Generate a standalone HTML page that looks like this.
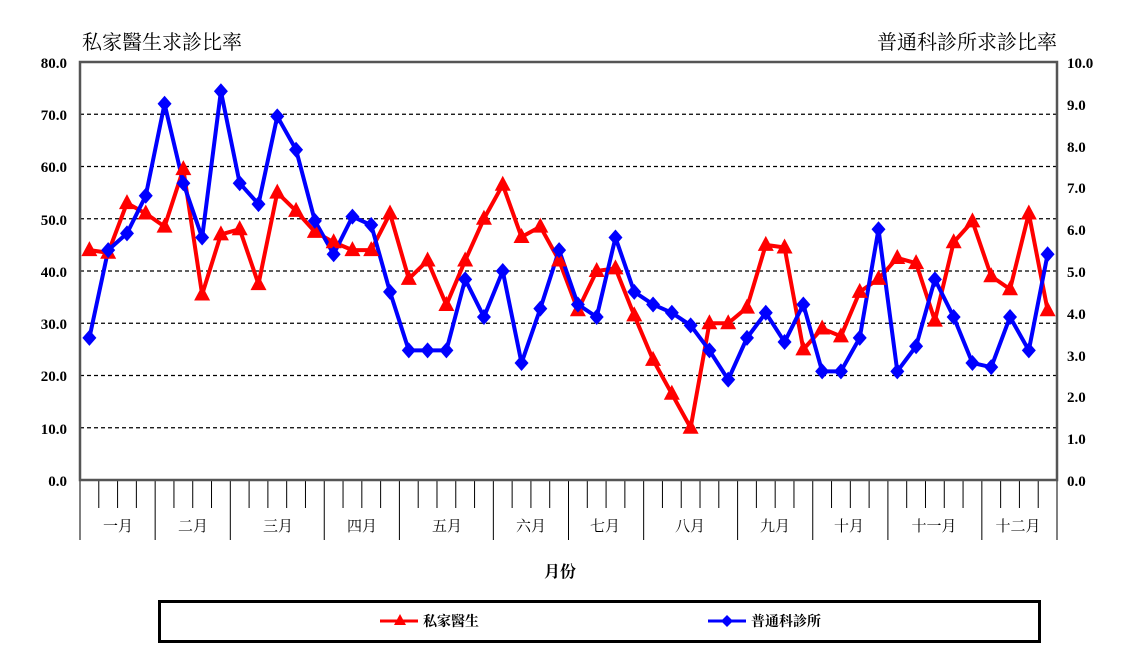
<!DOCTYPE html>
<html><head><meta charset="utf-8"><style>
html,body{margin:0;padding:0;background:#fff;}
svg{display:block;}
text{font-family:"Liberation Serif","Noto Serif CJK SC","Noto Sans CJK TC",serif;}
</style></head><body>
<svg id="s" width="1131" height="656" xmlns="http://www.w3.org/2000/svg">
<rect width="1131" height="656" fill="#fff"/>
<g id="grid"></g>
<text x="82" y="49" font-size="20" font-family="Noto Sans CJK TC,sans-serif">私家醫生求診比率</text>
<text x="1057" y="49" font-size="20" text-anchor="end" font-family="Noto Sans CJK TC,sans-serif">普通科診所求診比率</text>
<g font-size="15" font-weight="bold" text-anchor="end">
<text x="67" y="68">80.0</text><text x="67" y="120">70.0</text><text x="67" y="172">60.0</text><text x="67" y="225">50.0</text><text x="67" y="277">40.0</text><text x="67" y="329">30.0</text><text x="67" y="381">20.0</text><text x="67" y="434">10.0</text><text x="67" y="486">0.0</text>
</g>
<g font-size="15" font-weight="bold">
<text x="1067" y="68">10.0</text><text x="1067" y="110">9.0</text><text x="1067" y="152">8.0</text><text x="1067" y="193">7.0</text><text x="1067" y="235">6.0</text><text x="1067" y="277">5.0</text><text x="1067" y="319">4.0</text><text x="1067" y="361">3.0</text><text x="1067" y="402">2.0</text><text x="1067" y="444">1.0</text><text x="1067" y="486">0.0</text>
</g>
<g font-size="15" text-anchor="middle" font-family="Noto Sans CJK TC,sans-serif">
<text x="118" y="531">一月</text><text x="193" y="531">二月</text><text x="278" y="531">三月</text><text x="362" y="531">四月</text><text x="447" y="531">五月</text><text x="531" y="531">六月</text><text x="605" y="531">七月</text><text x="690" y="531">八月</text><text x="775" y="531">九月</text><text x="849" y="531">十月</text><text x="934" y="531">十一月</text><text x="1018" y="531">十二月</text>
</g>
<text x="560" y="577" font-size="16" font-weight="bold" text-anchor="middle" font-family="Noto Sans CJK TC,sans-serif">月份</text>
<rect x="159.5" y="601.5" width="880" height="40" fill="none" stroke="#000" stroke-width="3"/>
<line x1="380" y1="621" x2="418" y2="621" stroke="#f00" stroke-width="3"/>
<polygon points="400,614 406,625 394,625" fill="#f00"/>
<text x="423" y="626" font-size="14" font-weight="bold" font-family="Noto Sans CJK TC,sans-serif">私家醫生</text>
<line x1="708" y1="621" x2="746" y2="621" stroke="#00f" stroke-width="3"/>
<polygon points="727,615 733,621 727,627 721,621" fill="#00f"/>
<text x="751" y="626" font-size="14" font-weight="bold" font-family="Noto Sans CJK TC,sans-serif">普通科診所</text>
<g id="series"></g>
</svg>
<script>
var NS="http://www.w3.org/2000/svg";
function el(p,t,a){var e=document.createElementNS(NS,t);for(var k in a)e.setAttribute(k,a[k]);p.appendChild(e);return e;}
var g=document.getElementById('grid'),sr=document.getElementById('series');
var L=80,R=1057,T=62,B=480,W=(R-L)/52;
for(var v=10;v<80;v+=10){var y=B-v*(B-T)/80;el(g,'line',{x1:L,x2:R,y1:y,y2:y,stroke:'#000','stroke-width':1.3,'stroke-dasharray':'4,3'});}
var months=[0,4,8,13,17,22,26,30,35,39,43,48,52];
for(var k=0;k<=52;k++){var x=L+k*W;var m=months.indexOf(k)>=0;el(g,'line',{x1:x,x2:x,y1:B,y2:m?540:508,stroke:'#000','stroke-width':1});}
el(g,'rect',{x:L,y:T,width:R-L,height:B-T,fill:'none',stroke:'#555','stroke-width':2.5});
var red=[44,43.5,53,51,48.5,59.5,35.5,47,48,37.5,55,51.5,47.5,45.5,44,44,51,38.5,42,33.5,42,50,56.5,46.5,48.5,42,32.5,40,40.5,31.5,23,16.5,10,30,30,33,45,44.5,25,29,27.5,36,38.5,42.5,41.5,30.5,45.5,49.5,39,36.5,51,32.5];
var blue=[3.4,5.5,5.9,6.8,9.0,7.1,5.8,9.3,7.1,6.6,8.7,7.9,6.2,5.4,6.3,6.1,4.5,3.1,3.1,3.1,4.8,3.9,5.0,2.8,4.1,5.5,4.2,3.9,5.8,4.5,4.2,4.0,3.7,3.1,2.4,3.4,4.0,3.3,4.2,2.6,2.6,3.4,6.0,2.6,3.2,4.8,3.9,2.8,2.7,3.9,3.1,5.4];
function X(i){return L+W*(i+0.5);}
var pr=red.map(function(v,i){return X(i)+','+(B-v*(B-T)/80);}).join(' ');
var pb=blue.map(function(v,i){return X(i)+','+(B-v*(B-T)/10);}).join(' ');
el(sr,'polyline',{points:pr,fill:'none',stroke:'#f00','stroke-width':4,'stroke-linejoin':'round'});
el(sr,'polyline',{points:pb,fill:'none',stroke:'#00f','stroke-width':4,'stroke-linejoin':'round'});
red.forEach(function(v,i){var x=X(i),y=B-v*(B-T)/80;el(sr,'polygon',{points:x+','+(y-9)+' '+(x+8)+','+(y+6)+' '+(x-8)+','+(y+6),fill:'#f00'});});
blue.forEach(function(v,i){var x=X(i),y=B-v*(B-T)/10;el(sr,'polygon',{points:x+','+(y-8)+' '+(x+7)+','+y+' '+x+','+(y+8)+' '+(x-7)+','+y,fill:'#00f'});});
</script>
</body></html>
